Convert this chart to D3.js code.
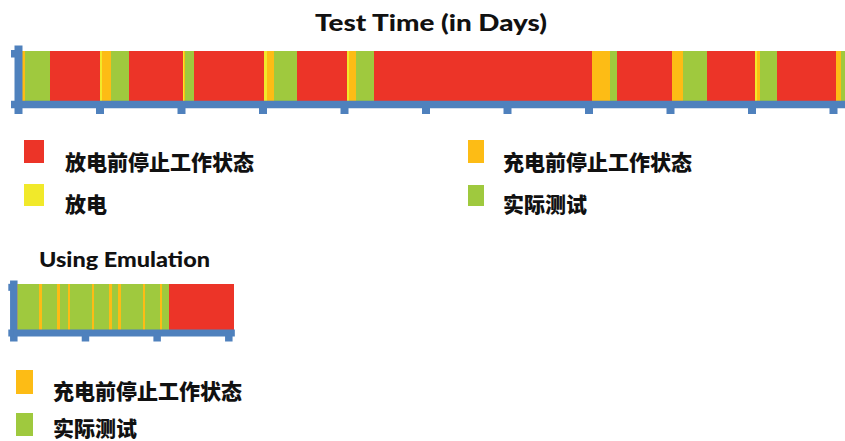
<!DOCTYPE html>
<html>
<head>
<meta charset="utf-8">
<script src="https://cdn.jsdelivr.net/npm/d3@7"></script>
<style>
  html, body { margin: 0; padding: 0; background: #fff; }
  svg { display: block; }
</style>
</head>
<body>
<svg id="chart" width="845" height="441"></svg>
<script>
// Battery test states, in legend order
const stateKeys = ["dischargeRest", "discharge", "chargeRest", "test"];
const stateLabels = ["放电前停止工作状态", "放电", "充电前停止工作状态", "实际测试"];

// Field test: state of each segment and the day on which it ends
const fieldStates = [
  "chargeRest", "test", "dischargeRest", "discharge", "chargeRest", "test",
  "dischargeRest", "discharge", "chargeRest", "test",
  "dischargeRest", "discharge", "chargeRest", "test",
  "dischargeRest", "discharge", "chargeRest", "test",
  "dischargeRest", "chargeRest", "test",
  "dischargeRest", "chargeRest", "test",
  "dischargeRest", "discharge", "chargeRest", "test",
  "dischargeRest", "chargeRest", "test"
];
const fieldEnds = [
  0.086, 0.393, 1.006, 1.034, 1.141, 1.366,
  2.021, 2.031, 2.049, 2.160,
  3.018, 3.052, 3.141, 3.427,
  4.033, 4.061, 4.147, 4.368,
  7.039, 7.264, 7.346,
  8.024, 8.163, 8.450,
  9.043, 9.064, 9.104, 9.317,
  10.037, 10.098, 10.15
];
const fieldDayTicks = [0, 1, 2, 3, 4, 5, 6, 7, 8, 9, 10];

// Emulated test: same states, compressed schedule
const emuStates = [
  "chargeRest", "test", "chargeRest", "test", "chargeRest", "test", "chargeRest",
  "test", "chargeRest", "test", "chargeRest", "test", "chargeRest", "test",
  "chargeRest", "test", "chargeRest", "test", "dischargeRest"
];
const emuEnds = [
  0.065, 0.363, 0.405, 0.614, 0.652, 0.763, 0.795,
  1.094, 1.130, 1.335, 1.373, 1.465, 1.499, 1.805,
  1.838, 2.047, 2.079, 2.177, 3.084
];
const emuDayTicks = [0, 1, 2, 3];

const fieldLegendKeys = ["dischargeRest", "chargeRest", "discharge", "test"];
const emuLegendKeys = ["chargeRest", "test"];

// ---- styles ----
const color = d3.scaleOrdinal()
  .domain(stateKeys)
  .range(["#EC3428", "#F1E92A", "#FDBC15", "#9FC93E"]);
const labelOf = d3.scaleOrdinal().domain(stateKeys).range(stateLabels);
const axisBlue = "#4F81BD";
const cjk = "'Noto Sans CJK SC', 'Noto Sans', sans-serif";
const latin = "Lato, 'Open Sans', 'DejaVu Sans', sans-serif";

const svg = d3.select("#chart");

function toSegments(states, ends) {
  return states.map((s, i) => ({ state: s, start: i === 0 ? 0 : ends[i - 1], end: ends[i] }));
}

// Draws one timeline: stacked state segments, a thick blue x axis and a short y axis
function timeline(g, opts) {
  const x = d3.scaleLinear().domain([0, opts.maxDay]).range([opts.x0, opts.x0 + opts.maxDay * opts.pxPerDay]);
  const segs = toSegments(opts.states, opts.ends);

  g.append("g").selectAll("rect")
    .data(segs)
    .join("rect")
    .attr("x", d => x(d.start))
    .attr("width", d => x(d.end) - x(d.start))
    .attr("y", opts.barTop)
    .attr("height", opts.barBottom - opts.barTop)
    .attr("fill", d => color(d.state))
    .attr("shape-rendering", "crispEdges");

  const xAxis = g.append("g")
    .attr("transform", `translate(0,${opts.axisY})`)
    .call(d3.axisBottom(x).tickValues(opts.ticks).tickSizeOuter(0).tickSizeInner(opts.tickLen).tickFormat(""));
  xAxis.select(".domain").attr("stroke", axisBlue).attr("stroke-width", opts.stroke);
  xAxis.selectAll(".tick line").attr("stroke", axisBlue).attr("stroke-width", opts.stroke + 0.5);

  const y = d3.scaleLinear().domain([0, 1]).range([opts.axisY, opts.yTop]);
  const yAxis = g.append("g")
    .attr("transform", `translate(${opts.x0},0)`)
    .call(d3.axisLeft(y).tickValues([0, opts.topTick]).tickSizeOuter(0).tickSizeInner(opts.leftTick).tickFormat(""));
  yAxis.select(".domain").attr("stroke", axisBlue).attr("stroke-width", opts.stroke + 0.5);
  yAxis.selectAll(".tick line").attr("stroke", axisBlue).attr("stroke-width", opts.stroke);
}

function legendItem(g, key, sx, sy, sw, sh, tx, ty) {
  g.append("rect")
    .attr("x", sx).attr("y", sy).attr("width", sw).attr("height", sh)
    .attr("fill", color(key));
  g.append("text")
    .attr("x", tx).attr("y", ty)
    .attr("dominant-baseline", "central")
    .attr("font-family", cjk).attr("font-weight", 900).attr("font-size", 21)
    .attr("fill", "#111")
    .text(labelOf(key));
}

// ---- field test ----
svg.append("text")
  .attr("x", 315).attr("y", 31)
  .attr("font-family", latin).attr("font-weight", 900).attr("font-size", 23)
  .attr("textLength", 232).attr("lengthAdjust", "spacingAndGlyphs")
  .attr("fill", "#111")
  .text("Test Time (in Days)");

timeline(svg.append("g"), {
  states: fieldStates, ends: fieldEnds, ticks: fieldDayTicks,
  maxDay: 10.15, x0: 18, pxPerDay: 81.5,
  barTop: 51, barBottom: 101, axisY: 104, yTop: 45,
  tickLen: 10, stroke: 7.5, leftTick: 7, topTick: 0.86
});

const fieldLegend = svg.append("g");
legendItem(fieldLegend, fieldLegendKeys[0], 24, 140, 20, 23, 65, 160.5);
legendItem(fieldLegend, fieldLegendKeys[1], 468, 140, 16, 23, 503, 160.5);
legendItem(fieldLegend, fieldLegendKeys[2], 24, 184, 20, 22, 65, 202.5);
legendItem(fieldLegend, fieldLegendKeys[3], 468, 185, 16, 21, 503, 202.5);

// ---- emulated test ----
svg.append("text")
  .attr("x", 39).attr("y", 267)
  .attr("font-family", latin).attr("font-weight", 900).attr("font-size", 20)
  .attr("textLength", 171).attr("lengthAdjust", "spacingAndGlyphs")
  .attr("fill", "#111")
  .text("Using Emulation");

timeline(svg.append("g"), {
  states: emuStates, ends: emuEnds, ticks: emuDayTicks,
  maxDay: 3.084, x0: 13.3, pxPerDay: 71.67,
  barTop: 284, barBottom: 330, axisY: 332.5, yTop: 280,
  tickLen: 9, stroke: 7, leftTick: 5, topTick: 0.87
});

const emuLegend = svg.append("g");
legendItem(emuLegend, emuLegendKeys[0], 16, 370, 17, 24, 53, 390);
legendItem(emuLegend, emuLegendKeys[1], 16, 413, 17, 23, 53, 427);
</script>
</body>
</html>
